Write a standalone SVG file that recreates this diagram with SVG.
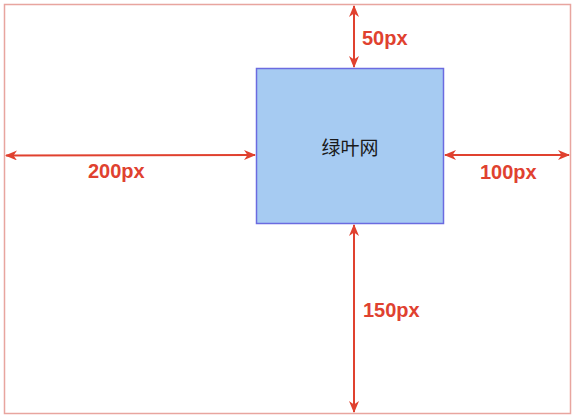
<svg xmlns="http://www.w3.org/2000/svg" width="574" height="419" viewBox="0 0 574 419">
<style>
.lbl{font-family:"Liberation Sans",Arial,sans-serif;font-size:20px;font-weight:bold;fill:#e0412f}
.dim{stroke:#e0412f;stroke-width:2;fill:none}
.node{font-family:"Noto Sans CJK SC","Liberation Sans",sans-serif;font-size:19px;fill:#1a1a1a}
</style>
<defs>
<marker id="ah" viewBox="0 0 12 10" refX="11" refY="5" markerWidth="12" markerHeight="10" orient="auto-start-reverse" markerUnits="userSpaceOnUse">
<path d="M0,0 L12,5 L0,10 L3.5,5 Z" fill="#e0412f"/>
</marker>
</defs>
<rect width="574" height="419" fill="#ffffff"/>
<g id="container">
<rect x="4.5" y="4.5" width="566" height="409" fill="none" stroke="#e8a59f" stroke-width="1.5"/>
</g>
<g id="box">
<rect x="256.5" y="68.5" width="187" height="155" fill="#a6cbf2" stroke="#6b6be0" stroke-width="1.5"/>
<text class="node" x="350" y="155" text-anchor="middle">绿叶网</text>
</g>
<g id="connectors">
<line class="dim" x1="354" y1="6" x2="354" y2="67" marker-start="url(#ah)" marker-end="url(#ah)"/>
<line class="dim" x1="6" y1="155.5" x2="255" y2="155" marker-start="url(#ah)" marker-end="url(#ah)"/>
<line class="dim" x1="445" y1="155" x2="569" y2="155" marker-start="url(#ah)" marker-end="url(#ah)"/>
<line class="dim" x1="354" y1="225" x2="354" y2="412" marker-start="url(#ah)" marker-end="url(#ah)"/>
</g>
<g id="labels">
<text class="lbl" x="362" y="45">50px</text>
<text class="lbl" x="88" y="178">200px</text>
<text class="lbl" x="480" y="179">100px</text>
<text class="lbl" x="363" y="317">150px</text>
</g>
</svg>
